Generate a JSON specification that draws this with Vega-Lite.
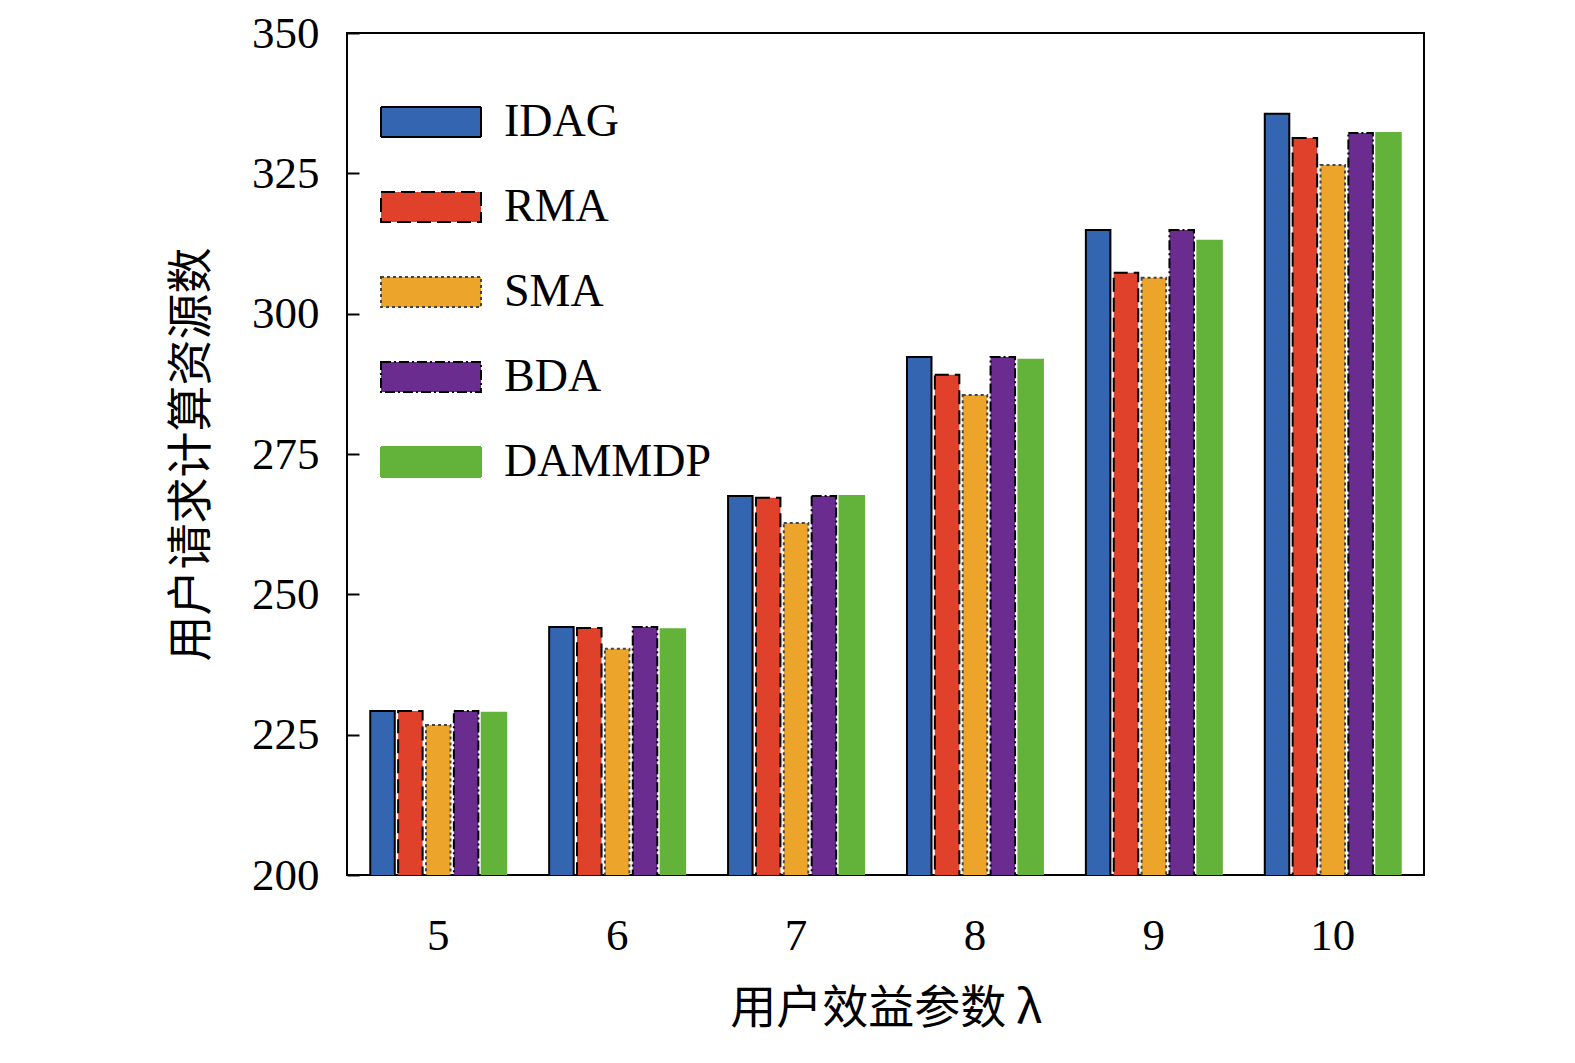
{
  "$schema": "https://vega.github.io/schema/vega-lite/v6.json",
  "autosize": "none",
  "width": 1077,
  "height": 842,
  "padding": {"left": 347, "top": 33, "right": 151, "bottom": 188},
  "background": "white",
  "config": {
    "font": "Liberation Serif",
    "view": {"stroke": "black", "strokeWidth": 2},
    "axis": {"labelFont": "Liberation Serif", "titleFont": "Noto Sans CJK SC", "labelFontSize": 45, "titleFontSize": 46, "titleFontWeight": "normal", "labelColor": "black", "titleColor": "black", "grid": false, "domain": false, "tickColor": "black", "tickWidth": 2}
  },
  "data": {
    "values": [
      {"lambda": "5", "alg": "IDAG", "v": 229.2}, {"lambda": "5", "alg": "RMA", "v": 229.2}, {"lambda": "5", "alg": "SMA", "v": 226.7}, {"lambda": "5", "alg": "BDA", "v": 229.2}, {"lambda": "5", "alg": "DAMMDP", "v": 228.9},
      {"lambda": "6", "alg": "IDAG", "v": 244.2}, {"lambda": "6", "alg": "RMA", "v": 244.0}, {"lambda": "6", "alg": "SMA", "v": 240.3}, {"lambda": "6", "alg": "BDA", "v": 244.2}, {"lambda": "6", "alg": "DAMMDP", "v": 243.8},
      {"lambda": "7", "alg": "IDAG", "v": 267.5}, {"lambda": "7", "alg": "RMA", "v": 267.2}, {"lambda": "7", "alg": "SMA", "v": 262.7}, {"lambda": "7", "alg": "BDA", "v": 267.5}, {"lambda": "7", "alg": "DAMMDP", "v": 267.5},
      {"lambda": "8", "alg": "IDAG", "v": 292.3}, {"lambda": "8", "alg": "RMA", "v": 289.1}, {"lambda": "8", "alg": "SMA", "v": 285.5}, {"lambda": "8", "alg": "BDA", "v": 292.3}, {"lambda": "8", "alg": "DAMMDP", "v": 291.8},
      {"lambda": "9", "alg": "IDAG", "v": 314.9}, {"lambda": "9", "alg": "RMA", "v": 307.3}, {"lambda": "9", "alg": "SMA", "v": 306.4}, {"lambda": "9", "alg": "BDA", "v": 314.9}, {"lambda": "9", "alg": "DAMMDP", "v": 313.0},
      {"lambda": "10", "alg": "IDAG", "v": 335.6}, {"lambda": "10", "alg": "RMA", "v": 331.3}, {"lambda": "10", "alg": "SMA", "v": 326.5}, {"lambda": "10", "alg": "BDA", "v": 332.2}, {"lambda": "10", "alg": "DAMMDP", "v": 332.2}
    ]
  },
  "mark": {"type": "bar", "strokeWidth": 2, "clip": true},
  "encoding": {
    "x": {"field": "lambda", "type": "ordinal", "sort": ["5", "6", "7", "8", "9", "10"],
      "scale": {"paddingInner": 0.24, "paddingOuter": 0.13},
      "axis": {"title": "用户效益参数 λ", "labelAngle": 0, "ticks": false, "labelPadding": 38, "titlePadding": 28}},
    "xOffset": {"field": "alg", "sort": ["IDAG", "RMA", "SMA", "BDA", "DAMMDP"], "scale": {"paddingInner": 0.12}},
    "y": {"field": "v", "type": "quantitative", "scale": {"domain": [200, 350], "nice": false},
      "axis": {"title": "用户请求计算资源数", "values": [200, 225, 250, 275, 300, 325, 350], "tickSize": -12, "labelPadding": 40, "titlePadding": 36}},
    "fill": {"field": "alg", "type": "nominal", "sort": ["IDAG", "RMA", "SMA", "BDA", "DAMMDP"],
      "scale": {"domain": ["IDAG", "RMA", "SMA", "BDA", "DAMMDP"], "range": ["#3465b0", "#e0412a", "#eca42a", "#6a2c8e", "#63b33a"]},
      "legend": {"title": null, "orient": "none", "legendX": 33, "legendY": 38, "symbolType": "M-1,-0.3H1V0.3H-1Z", "symbolSize": 10000, "labelFontSize": 46, "labelFont": "Liberation Serif", "labelColor": "black", "labelLimit": 400, "rowPadding": 11, "labelOffset": 22, "symbolStrokeWidth": 2}},
    "stroke": {"field": "alg", "type": "nominal",
      "scale": {"domain": ["IDAG", "RMA", "SMA", "BDA", "DAMMDP"], "range": ["black", "black", "#444444", "black", "#63b33a"]}},
    "strokeDash": {"field": "alg", "type": "nominal",
      "scale": {"domain": ["IDAG", "RMA", "SMA", "BDA", "DAMMDP"], "range": [[1, 0], [14, 6], [3, 3], [10, 3, 2, 3], [1, 0]]}}
  }
}
